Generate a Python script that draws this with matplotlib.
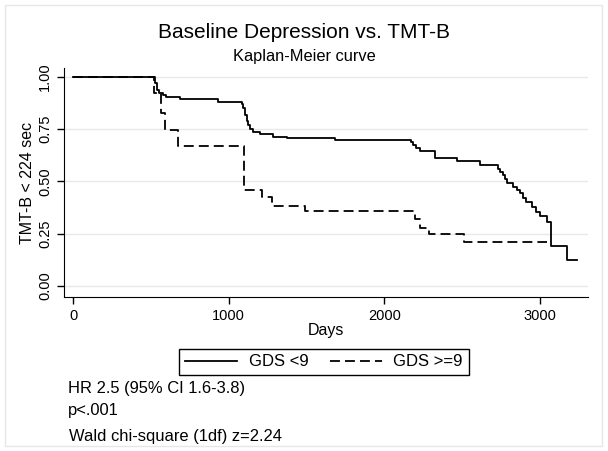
import matplotlib.pyplot as plt
import matplotlib.patches as patches

plt.rcParams['font.family'] = ['Liberation Sans', 'DejaVu Sans']

# Kaplan-Meier step estimates
daysLow = [0, 527, 540, 555, 575, 600, 690, 931, 1083, 1095, 1105, 1115, 1125, 1140,
           1156, 1200, 1285, 1374, 1683, 2171, 2185, 2200, 2230, 2325, 2464, 2614,
           2731, 2745, 2760, 2775, 2790, 2826, 2850, 2870, 2890, 2910, 2946, 2975,
           3000, 3042, 3068, 3175, 3239]
survLow = [1.0, 0.97, 0.94, 0.925, 0.915, 0.905, 0.893, 0.879, 0.87, 0.85, 0.82, 0.79,
           0.77, 0.75, 0.737, 0.725, 0.715, 0.71, 0.70, 0.69, 0.675, 0.66, 0.645, 0.61,
           0.596, 0.578, 0.56, 0.545, 0.53, 0.51, 0.495, 0.475, 0.46, 0.445, 0.42, 0.40,
           0.378, 0.355, 0.335, 0.308, 0.19, 0.122, 0.122]

daysHigh = [0, 522, 563, 590, 676, 1098, 1216, 1276, 1490, 2196, 2229, 2288, 2513, 3042]
survHigh = [1.0, 0.925, 0.83, 0.746, 0.671, 0.459, 0.427, 0.384, 0.359, 0.32, 0.276,
            0.249, 0.209, 0.209]

xTicks = [0, 1000, 2000, 3000]
yTicks = [0.0, 0.25, 0.5, 0.75, 1.0]
yTickLabels = ['0.00', '0.25', '0.50', '0.75', '1.00']

fig = plt.figure(figsize=(6.08, 4.51), dpi=100)
fig.patches.append(patches.Rectangle((5 / 608, 5 / 451), 597 / 608, 441 / 451,
                                     transform=fig.transFigure, fill=False,
                                     edgecolor='#e6e6e6', linewidth=1))
ax = fig.add_axes([64 / 608, 1 - 297 / 451, 524 / 608, 229 / 451])

for y in yTicks:
    ax.axhline(y, color='#e8e8e8', linewidth=1, zorder=0)

lineLow, = ax.plot(daysLow, survLow, drawstyle='steps-post', color='black', linewidth=1.3)
lineHigh, = ax.plot(daysHigh, survHigh, drawstyle='steps-post', color='black',
                    linewidth=1.3, dashes=(5.5, 2.8))

ax.set_xlim(-58, 3308)
ax.set_ylim(-0.053, 1.043)
ax.set_xticks(xTicks)
ax.set_yticks(yTicks)
ax.set_yticklabels(yTickLabels, rotation=90, va='center')
ax.tick_params(direction='out', length=5, labelsize=10.5, width=1)
for side in ['top', 'right']:
    ax.spines[side].set_visible(False)
ax.set_xlabel('Days', fontsize=11.5, labelpad=0)
ax.set_ylabel('TMT-B < 224 sec', fontsize=11.5, labelpad=2)

fig.text(0.5, 1 - 32 / 451, 'Baseline Depression vs. TMT-B', ha='center', va='center', fontsize=15)
fig.text(0.5, 1 - 56 / 451, 'Kaplan-Meier curve', ha='center', va='center', fontsize=11.8)

leg = fig.legend([lineLow, lineHigh], ['GDS <9', 'GDS >=9'], ncol=2,
                 loc='center', bbox_to_anchor=(324 / 608, 1 - 362 / 451),
                 fontsize=12, fancybox=False, edgecolor='black', framealpha=1,
                 handlelength=3.1, handletextpad=0.7, columnspacing=1.3, borderpad=0.35,
                 borderaxespad=0)
leg.get_frame().set_linewidth(1)

fig.text(68 / 608, 1 - 388 / 451, 'HR 2.5 (95% CI 1.6-3.8)', ha='left', va='center', fontsize=11.9)
fig.text(68 / 608, 1 - 411 / 451, 'p<.001', ha='left', va='center', fontsize=11.9)
fig.text(69 / 608, 1 - 437 / 451, 'Wald chi-square (1df) z=2.24', ha='left', va='center', fontsize=11.9)

fig.savefig('out.png', dpi=100)
